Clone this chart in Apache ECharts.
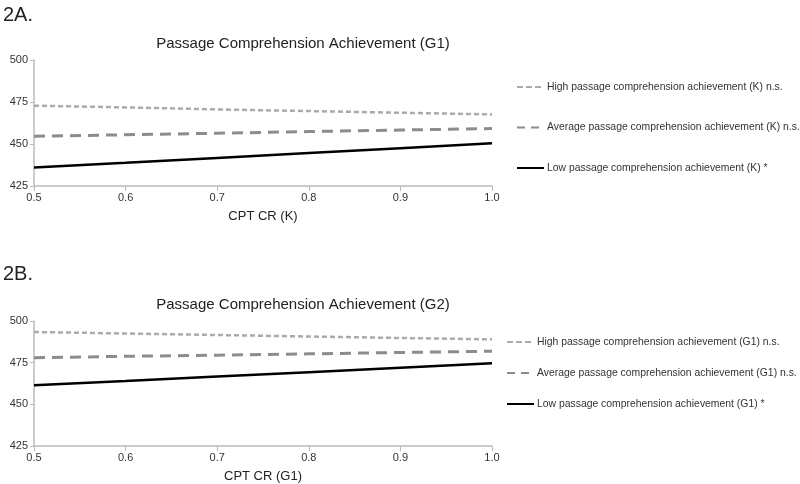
<!DOCTYPE html>
<html>
<head>
<meta charset="utf-8">
<script src="https://cdn.jsdelivr.net/npm/echarts@6/dist/echarts.min.js"></script>
<style>
  html, body { margin: 0; padding: 0; background: #fff; }
  #chart { width: 800px; height: 484px; }
</style>
</head>
<body>
<div id="chart"></div>
<script>
  // x values (CPT CR)
  var cptCR = [0.5, 0.6, 0.7, 0.8, 0.9, 1.0];
  // panel 2A
  var highK = [472.8, 471.8, 470.6, 469.6, 468.6, 467.6];
  var avgK = [454.6, 455.5, 456.4, 457.4, 458.3, 459.2];
  var lowK = [436.0, 438.8, 441.7, 444.6, 447.5, 450.4];
  // panel 2B
  var highG1 = [493.4, 492.5, 491.6, 490.7, 489.8, 489.0];
  var avgG1 = [478.0, 478.8, 479.5, 480.3, 481.1, 481.9];
  var lowG1 = [461.4, 464.0, 466.7, 469.3, 472.0, 474.7];

  var namesK = ['High passage comprehension achievement (K) n.s.',
    'Average passage comprehension achievement (K) n.s.',
    'Low passage comprehension achievement (K) *'];
  var namesG1 = ['High passage comprehension achievement (G1) n.s.',
    'Average passage comprehension achievement (G1) n.s.',
    'Low passage comprehension achievement (G1) *'];

  var font = 'Liberation Sans, Arial, sans-serif';
  var styles = [
    { color: '#aaaaaa', width: 2.5, type: [5, 3] },
    { color: '#8c8c8c', width: 3, type: [11, 7] },
    { color: '#000000', width: 2.5, type: 'solid' }
  ];
  // dash pattern of the small legend icons
  var iconDash = [[6, 3], [8, 6], 'solid'];

  function pairs(ys) {
    return cptCR.map(function (x, i) { return [x, ys[i]]; });
  }
  function mkSeries(names, data, idx) {
    return names.map(function (n, i) {
      return {
        name: n, type: 'line', xAxisIndex: idx, yAxisIndex: idx,
        data: pairs(data[i]), symbol: 'none', silent: true,
        lineStyle: styles[i], itemStyle: { color: styles[i].color },
        animation: false
      };
    });
  }
  function xAx(idx, name) {
    return {
      type: 'value', gridIndex: idx, min: 0.5, max: 1.0, interval: 0.1,
      name: name, nameLocation: 'middle', nameGap: 24,
      nameTextStyle: { fontFamily: font, fontSize: 13, color: '#222' },
      axisLine: { lineStyle: { color: '#bbbbbb', width: 1.5 } },
      axisTick: { show: true, length: 5, lineStyle: { color: '#bbbbbb' } },
      axisLabel: { fontFamily: font, fontSize: 11, color: '#333', margin: 6,
        formatter: function (v) { return v.toFixed(1); } },
      splitLine: { show: false }
    };
  }
  function yAx(idx) {
    return {
      type: 'value', gridIndex: idx, min: 425, max: 500, interval: 25,
      axisLine: { show: true, lineStyle: { color: '#bbbbbb', width: 1.5 } },
      axisTick: { show: true, length: 4, lineStyle: { color: '#bbbbbb' } },
      axisLabel: { fontFamily: font, fontSize: 11, color: '#333', margin: 6 },
      splitLine: { show: false }
    };
  }
  function legend(names, left, top, gap) {
    return {
      data: names.map(function (n, i) {
        return { name: n, lineStyle: { type: iconDash[i] } };
      }),
      orient: 'vertical', left: left, top: top, itemGap: gap,
      itemWidth: 27, itemHeight: 10, selectedMode: false,
      itemStyle: { opacity: 0 },
      textStyle: { fontFamily: font, fontSize: 10.4, color: '#333', padding: [0, 0, 0, -2] }
    };
  }

  var chart = echarts.init(document.getElementById('chart'));
  chart.setOption({
    backgroundColor: '#fff',
    title: [
      { text: '2A.', left: -2, top: 0, textStyle: { fontFamily: font, fontSize: 20, fontWeight: 'normal', color: '#222' } },
      { text: 'Passage Comprehension Achievement (G1)', left: 298, top: 31, textAlign: 'center',
        textStyle: { fontFamily: font, fontSize: 15, fontWeight: 'normal', color: '#222' } },
      { text: '2B.', left: -2, top: 259, textStyle: { fontFamily: font, fontSize: 20, fontWeight: 'normal', color: '#222' } },
      { text: 'Passage Comprehension Achievement (G2)', left: 298, top: 292, textAlign: 'center',
        textStyle: { fontFamily: font, fontSize: 15, fontWeight: 'normal', color: '#222' } }
    ],
    legend: [
      legend(namesK, 511, 77, 30.5),
      legend(namesG1, 501, 332, 21)
    ],
    grid: [
      { left: 34, right: 308, top: 60, height: 126 },
      { left: 34, right: 308, top: 321, height: 126 }
    ],
    xAxis: [xAx(0, 'CPT CR (K)'), xAx(1, 'CPT CR (G1)')],
    yAxis: [yAx(0), yAx(1)],
    series: mkSeries(namesK, [highK, avgK, lowK], 0).concat(mkSeries(namesG1, [highG1, avgG1, lowG1], 1))
  });
</script>
</body>
</html>
